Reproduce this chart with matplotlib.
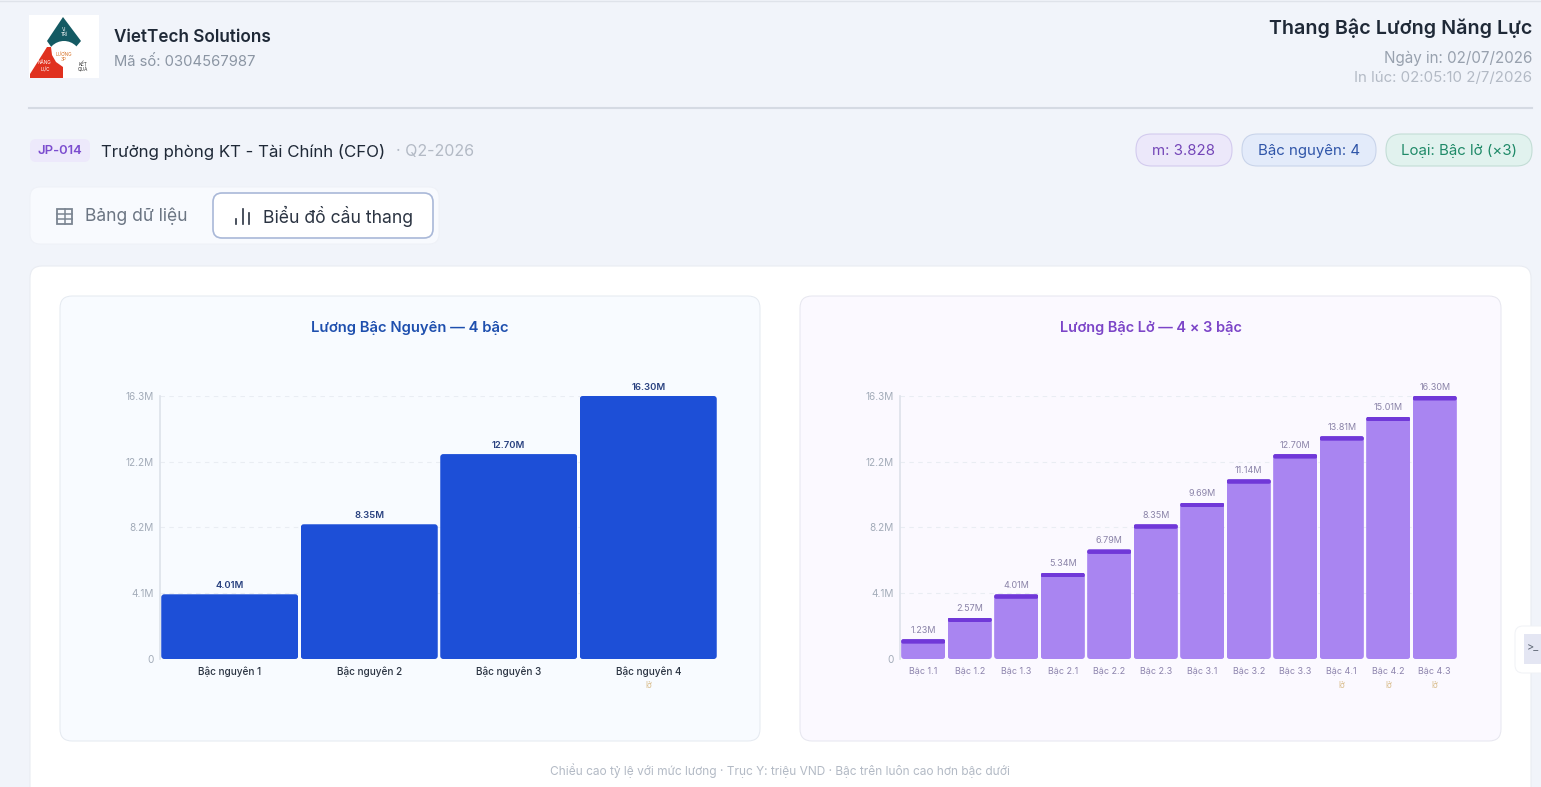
# Salary ladder page: header, tabs and the two staircase bar charts.
import matplotlib
matplotlib.use('Agg')
import matplotlib.pyplot as plt
from matplotlib.patches import FancyBboxPatch, Polygon, Circle, Rectangle

plt.rcParams['font.family'] = ['Inter', 'Noto Sans', 'DejaVu Sans']

W, H = 1541, 787

whole_labels = ['Bậc nguyên 1', 'Bậc nguyên 2', 'Bậc nguyên 3', 'Bậc nguyên 4']
whole_values = [4.01, 8.35, 12.70, 16.30]
whole_odd = [False, False, False, True]

half_labels = ['Bậc 1.1', 'Bậc 1.2', 'Bậc 1.3', 'Bậc 2.1', 'Bậc 2.2', 'Bậc 2.3',
               'Bậc 3.1', 'Bậc 3.2', 'Bậc 3.3', 'Bậc 4.1', 'Bậc 4.2', 'Bậc 4.3']
half_values = [1.23, 2.57, 4.01, 5.34, 6.79, 8.35, 9.69, 11.14, 12.70, 13.81, 15.01, 16.30]
half_odd = [False] * 9 + [True] * 3

y_ticks = [0, 4.1, 8.2, 12.2, 16.3]
y_tick_labels = ['0', '4.1M', '8.2M', '12.2M', '16.3M']


def px(size):
    return size * 0.72


def box(ax, x0, y0, x1, y1, r, fc, ec='none', lw=1, z=1):
    ax.add_patch(FancyBboxPatch((x0 + r, y0 + r), x1 - x0 - 2 * r, y1 - y0 - 2 * r,
                                boxstyle=f'round,pad={r},rounding_size={r}',
                                fc=fc, ec=ec, lw=lw, zorder=z))


def round_bars(ax, bars, radius, w_px, h_px):
    # clip the plain bars to rounded outlines
    x0, x1 = ax.get_xlim()
    y0, y1 = ax.get_ylim()
    rx = radius * (x1 - x0) / w_px
    aspect = ((y1 - y0) / h_px) / ((x1 - x0) / w_px)
    for bar in bars:
        clip = FancyBboxPatch((bar.get_x() + rx, bar.get_y() + rx * aspect),
                              bar.get_width() - 2 * rx,
                              bar.get_height() - 2 * rx * aspect,
                              boxstyle=f'round,pad={rx},rounding_size={rx}',
                              mutation_aspect=aspect, transform=ax.transData,
                              fc='none', ec='none')
        ax.add_patch(clip)
        bar.set_clip_path(clip)


def stair_chart(fig, left, right, labels, values, odd, fill, cap, bar_w, val_color, lab_color,
                val_size, lab_size, lab_weight, val_weight):
    top, bottom = 396, 659
    ax = fig.add_axes([left / W, 1 - bottom / H, (right - left) / W, (bottom - top) / H])
    ax.patch.set_alpha(0)
    pos = list(range(len(values)))
    ax.set_xlim(-0.5, len(values) - 0.5)
    ax.set_ylim(0, 16.3)
    bars = ax.bar(pos, values, width=bar_w, color=fill, zorder=3)
    round_bars(ax, bars, 3, right - left, bottom - top)
    if cap:
        cap_h = 4.5 * 16.3 / (bottom - top)
        caps = ax.bar(pos, [cap_h] * len(values),
                      bottom=[v - cap_h for v in values], width=bar_w, color=cap, zorder=4)
        round_bars(ax, caps, 2, right - left, bottom - top)
    for s in ['top', 'right', 'bottom']:
        ax.spines[s].set_visible(False)
    ax.spines['left'].set_color('#dde2ea')
    ax.spines['left'].set_linewidth(1.2)
    ax.set_yticks(y_ticks, y_tick_labels)
    ax.tick_params(axis='y', length=0, pad=4.5, labelsize=px(10), labelcolor='#a3acb9')
    ax.set_xticks(pos, labels)
    ax.tick_params(axis='x', length=0, pad=5.5, labelsize=px(lab_size), labelcolor=lab_color)
    for t in ax.get_xticklabels():
        t.set_fontweight(lab_weight)
    ax.yaxis.grid(True, color='#e9edf3', lw=0.8, ls=(0, (4, 4)), zorder=0)
    ax.set_axisbelow(True)
    for p, v, o in zip(pos, values, odd):
        ax.annotate(f'{v:.2f}M', (p, v), xytext=(0, 3.2), textcoords='offset points',
                    ha='center', va='bottom', fontsize=px(val_size), color=val_color,
                    fontweight=val_weight, annotation_clip=False, zorder=5)
        if o:
            ax.annotate('lở', (p, 0), xytext=(0, -15.6), textcoords='offset points',
                        ha='center', va='top', fontsize=px(8), color='#d9bd8c',
                        annotation_clip=False)
    return ax


fig = plt.figure(figsize=(W / 100, H / 100), dpi=100, facecolor='#f1f4fa')
bg = fig.add_axes([0, 0, 1, 1])
bg.set_xlim(0, W)
bg.set_ylim(H, 0)
bg.axis('off')

bg.plot([0, W], [0.5, 0.5], color='#dfe3ea', lw=1)

# logo
bg.add_patch(Rectangle((29, 15), 70, 63, fc='white', ec='none'))
bg.add_patch(Polygon([(63, 17), (81, 41), (75, 48), (52, 48), (47, 41)], fc='#145a63', ec='none', zorder=2))
bg.add_patch(Circle((64, 58), 17, fc='white', ec='none', zorder=3))
bg.add_patch(Polygon([(30, 74), (47, 47), (51, 47), (52, 55), (56, 62), (63, 67), (63, 78), (30, 78)],
                     fc='#e0311f', ec='none', zorder=4))
for x, y, s, c in [(64, 32, 'VỊ\nTRÍ', 'white'), (64, 57, 'LƯƠNG\n3P', '#d9772e'),
                   (45, 66, 'NĂNG\nLỰC', 'white'), (83, 67, 'KẾT\nQUẢ', '#333333')]:
    bg.text(x, y, s, fontsize=3.4, color=c, ha='center', va='center', zorder=5, linespacing=1.1)

bg.text(114, 37, 'VietTech Solutions', fontsize=px(17.1), fontweight='semibold', color='#1f2937', va='center')
bg.text(114, 62, 'Mã số: 0304567987', fontsize=px(14.8), color='#8b95a3', va='center')

bg.text(1532, 28, 'Thang Bậc Lương Năng Lực', fontsize=px(19.7), fontweight='semibold',
        color='#1f2937', ha='right', va='center')
bg.text(1532, 58, 'Ngày in: 02/07/2026', fontsize=px(15.2), color='#98a1ae', ha='right', va='center')
bg.text(1532, 78, 'In lúc: 02:05:10 2/7/2026', fontsize=px(15), color='#b3bac5', ha='right', va='center')

bg.plot([29, 1532], [108, 108], color='#d5dae3', lw=1.5)

# job line
box(bg, 30, 139, 90, 162, 6, '#ede9fb')
bg.text(60, 151, 'JP-014', fontsize=px(13), fontweight='semibold', color='#7c4dcf', ha='center', va='center')
bg.text(101, 151.5, 'Trưởng phòng KT - Tài Chính (CFO)', fontsize=px(16.9), color='#1f2937', va='center')
bg.text(396, 151.5, '· Q2-2026', fontsize=px(16), color='#b3bac5', va='center')

# pills
for x0, x1, fc, ec, tc, s in [
        (1136, 1232, '#ece8fa', '#d3cbee', '#7446b8', 'm: 3.828'),
        (1242, 1376, '#e3ebfa', '#c9d4ea', '#2f55a8', 'Bậc nguyên: 4'),
        (1386, 1532, '#e1f2ee', '#c3ddd6', '#1f8a68', 'Loại: Bậc lở (×3)')]:
    box(bg, x0, 134, x1, 166, 15.5, fc, ec, 0.8)
    bg.text((x0 + x1) / 2, 151, s, fontsize=px(15), color=tc, ha='center', va='center', zorder=3)

# tabs
box(bg, 30, 187, 439, 244, 10, '#f8fafe', '#eef1f7', 0.7)
box(bg, 213, 193, 433, 238, 9, 'white', '#a9b8d8', 1.2, z=2)
bg.add_patch(Rectangle((57.5, 208.5), 15, 15, fc='none', ec='#7b8592', lw=1.3, zorder=3))
bg.plot([57.5, 72.5], [213.5, 213.5], color='#7b8592', lw=1.1, zorder=3)
bg.plot([57.5, 72.5], [218.5, 218.5], color='#7b8592', lw=1.1, zorder=3)
bg.plot([65, 65], [208.5, 223.5], color='#7b8592', lw=1.1, zorder=3)
for x, y0 in [(236, 219), (243, 209), (249, 213)]:
    bg.plot([x, x], [y0, 224], color='#2b3442', lw=1.2, zorder=3)
bg.text(85, 216, 'Bảng dữ liệu', fontsize=px(17.5), color='#6b7583', va='center')
bg.text(263, 216, 'Biểu đồ cầu thang', fontsize=px(17.6), color='#2b3442', va='center', zorder=3)

# main card runs off the bottom of the page
box(bg, 30, 266, 1531, 820, 12, 'white', '#e9ecf2', 0.8)
box(bg, 60, 296, 760, 741, 12, '#f8fbff', '#e4e9f0', 0.7, z=2)
box(bg, 800, 296, 1501, 741, 12, '#fbf9ff', '#e6e6ef', 0.7, z=2)

bg.text(410, 328, 'Lương Bậc Nguyên — 4 bậc', fontsize=px(14.8), fontweight='semibold',
        color='#1e4fae', ha='center', va='center', zorder=3)
bg.text(1151, 328, 'Lương Bậc Lở — 4 × 3 bậc', fontsize=px(14.5), fontweight='semibold',
        color='#7c45c8', ha='center', va='center', zorder=3)
bg.text(780, 771, 'Chiều cao tỷ lệ với mức lương · Trục Y: triệu VND · Bậc trên luôn cao hơn bậc dưới',
        fontsize=px(11.9), color='#b3bac5', ha='center', va='center', zorder=3)

# side widget at the page edge
box(bg, 1515, 626, 1560, 673, 8, 'white', '#f0f2f6', 0.7, z=4)
bg.add_patch(Rectangle((1524, 634), 20, 30, fc='#e4e6f3', ec='none', zorder=5))
bg.text(1533, 647, '>_', fontsize=px(11), color='#5b6472', ha='center', va='center', zorder=6)

stair_chart(fig, 160, 718, whole_labels, whole_values, whole_odd, '#1d4fd7', None, 0.982,
            '#28407f', '#2b3442', 9.5, 10, 'medium', 'semibold')
stair_chart(fig, 900, 1458, half_labels, half_values, half_odd, '#a985f1', '#7038d8', 0.95,
            '#8a83a8', '#8d84ad', 9, 9, 'normal', 'normal')

fig.savefig('out.png', dpi=100, facecolor=fig.get_facecolor())
